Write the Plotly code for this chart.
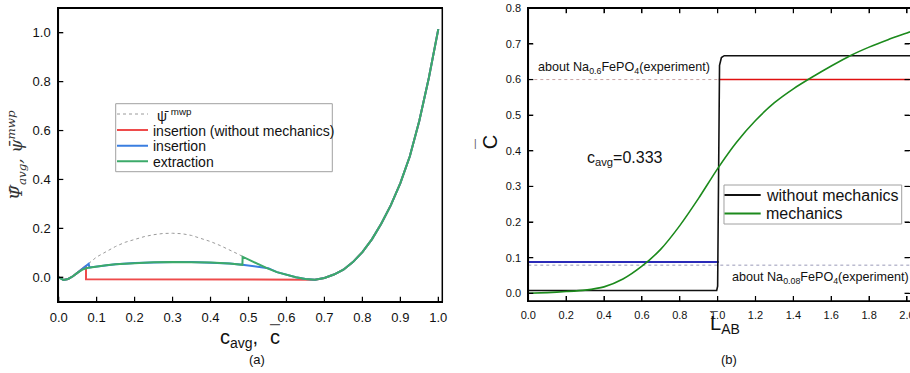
import plotly.graph_objects as go

W, H = 910, 373
FONT = "Liberation Sans, Arial, sans-serif"

# ---------------- (a) data ----------------
mwp_c = [0, 0.0125, 0.025, 0.0375, 0.05, 0.0625, 0.075, 0.0875, 0.1, 0.125, 0.15, 0.175,
         0.2, 0.225, 0.25, 0.275, 0.3, 0.325, 0.35, 0.375, 0.4, 0.425, 0.45, 0.475, 0.5,
         0.525, 0.55, 0.575, 0.6, 0.625, 0.65, 0.675, 0.7, 0.725, 0.75, 0.775, 0.8, 0.825,
         0.85, 0.875, 0.9, 0.925, 0.95, 0.975, 1.0]
mwp_psi = [0, -0.011, -0.007, 0.004, 0.019, 0.034, 0.050, 0.067, 0.083, 0.106, 0.126, 0.143,
           0.156, 0.166, 0.174, 0.179, 0.180, 0.178, 0.171, 0.160, 0.146, 0.130, 0.112, 0.093, 0.072,
           0.053, 0.036, 0.021, 0.009, 0.000, -0.007, -0.010, -0.003, 0.011, 0.031, 0.062, 0.103, 0.155,
           0.220, 0.295, 0.385, 0.495, 0.640, 0.815, 1.015]

# lower (two-phase) branch of the averaged energy
lower_c = [0.0625, 0.075, 0.09, 0.1, 0.125, 0.15, 0.2, 0.25, 0.3, 0.35, 0.4, 0.45, 0.484]
lower_psi = [0.031, 0.038, 0.042, 0.044, 0.049, 0.053, 0.058, 0.061, 0.062, 0.062, 0.060, 0.056, 0.051]

# extraction: jump back onto the single-phase curve
ext_jump_c = [0.4845]
ext_jump_psi = [0.084]

# insertion: leaves the single-phase curve, rejoins it later
ins_leave_c = [0.079, 0.081]
ins_leave_psi = [0.055, 0.040]
ins_join_c = [0.552]
ins_join_psi = [0.037]

# insertion without mechanics
nomech_c = [0.072, 0.072, 0.65]
nomech_psi = [0.046, -0.008, -0.008]

# ---------------- (b) data ----------------
L_ab = [0.0, 0.1, 0.2, 0.3, 0.4, 0.5, 0.6, 0.7, 0.8, 0.9, 1.0, 1.1, 1.2, 1.3, 1.4, 1.5, 1.6,
        1.7, 1.8, 1.9, 2.0, 2.016]
c_mech = [0.000, 0.002, 0.005, 0.009, 0.018, 0.040, 0.076, 0.124, 0.190, 0.267, 0.350, 0.424,
          0.485, 0.535, 0.574, 0.607, 0.638, 0.667, 0.691, 0.712, 0.731, 0.734]

step_L = [0.0, 0.995, 1.0, 1.005, 1.01, 1.02, 1.035, 2.016]
step_c = [0.008, 0.008, 0.02, 0.5, 0.64, 0.662, 0.667, 0.667]

c_low_phase = 0.088     # blue level, L < 1
c_high_phase = 0.6      # red level, L > 1
L_switch = 1.006
exp_high = 0.6          # about Na0.6FePO4
exp_low = 0.079         # about Na0.08FePO4

# tick values
a_xticks = [0.0, 0.1, 0.2, 0.3, 0.4, 0.5, 0.6, 0.7, 0.8, 0.9, 1.0]
a_yticks = [0.0, 0.2, 0.4, 0.6, 0.8, 1.0]
b_xticks = [0.0, 0.2, 0.4, 0.6, 0.8, 1.0, 1.2, 1.4, 1.6, 1.8, 2.0]
b_yticks = [0.0, 0.1, 0.2, 0.3, 0.4, 0.5, 0.6, 0.7, 0.8]

# ---------------- layout geometry (pixels) ----------------
A_XR, A_YR = [-0.001, 1.0105], [-0.1, 1.1]
B_XR, B_YR = [0.0, 2.016], [-0.0216, 0.8]
A_PX, A_PY = (58.3, 442.3), (301.7, 8.3)    # left/right, bottom/top
B_PX, B_PY = (528.3, 910.0), (301.0, 8.3)
L_max = B_XR[1]


def pick(cs, ps, lo=None, hi=None):
    out_c, out_p = [], []
    for c, p in zip(cs, ps):
        if (lo is None or c >= lo) and (hi is None or c <= hi):
            out_c.append(c)
            out_p.append(p)
    return out_c, out_p


# build paths
a_c, a_p = pick(mwp_c, mwp_psi, hi=0.0625)
b_c, b_p = pick(mwp_c, mwp_psi, lo=0.575)
tail_c, tail_p = pick(mwp_c, mwp_psi, lo=0.675)
red_x = a_c + nomech_c + tail_c
red_y = a_p + nomech_psi + tail_p

c1, p1 = pick(mwp_c, mwp_psi, hi=0.075)
lc, lp = pick(lower_c, lower_psi, lo=0.09)
blue_x = c1 + ins_leave_c + lc + ins_join_c + b_c
blue_y = p1 + ins_leave_psi + lp + ins_join_psi + b_p

c2, p2 = pick(mwp_c, mwp_psi, hi=0.05)
c3, p3 = pick(mwp_c, mwp_psi, lo=0.5)
green_x = c2 + lower_c + ext_jump_c + c3
green_y = p2 + lower_psi + ext_jump_psi + p3

RED = "#ee4b4b"
BLUE = "#3a7ee0"
GREEN = "#3caa6a"
FRAME = "#000000"
MWP_GRAY = "#9a9a9a"
B_GREEN = "#1c8a1c"
B_BLACK = "#111111"

fig = go.Figure()


def line(x, y, color, width, axes="a", dash=None, name=None, shape="linear"):
    ln = dict(color=color, width=width, shape=shape)
    if dash:
        ln["dash"] = dash
    if shape == "spline":
        ln["smoothing"] = 0.6
    xa, ya = {"a": ("x", "y"), "b": ("x2", "y2"), "p": ("x3", "y3")}[axes]
    fig.add_trace(go.Scatter(x=x, y=y, mode="lines", line=ln, name=name, hoverinfo="skip",
                             xaxis=xa, yaxis=ya))


line(mwp_c, mwp_psi, MWP_GRAY, 1, dash="dot", name="ψ̄ mwp")
line(red_x, red_y, RED, 2, name="insertion (without mechanics)")
line(blue_x, blue_y, BLUE, 2, name="insertion")
line(green_x, green_y, GREEN, 2, name="extraction")

line([0, L_switch], [exp_high, exp_high], "#c8a4a4", 1, "b", dash="dot")
line([0, L_max], [exp_low, exp_low], "#9a9ab8", 1, "b", dash="dot")
line([0, L_switch], [c_low_phase, c_low_phase], "#2b2bb8", 2, "b")
line([L_switch, L_max], [c_high_phase, c_high_phase], "#e01010", 1.6, "b")
line(step_L, step_c, B_BLACK, 1.6, "b", name="without mechanics")
line(L_ab, c_mech, B_GREEN, 1.6, "b", name="mechanics", shape="spline")


# pixel -> data helpers
def dx(px, XR, PX):
    return XR[0] + (px - PX[0]) / (PX[1] - PX[0]) * (XR[1] - XR[0])


def dy(py, YR, PY):
    return YR[0] + (PY[0] - py) / (PY[0] - PY[1]) * (YR[1] - YR[0])


def ax_a(px, py):
    return dx(px, A_XR, A_PX), dy(py, A_YR, A_PY)


def ax_b(px, py):
    return dx(px, B_XR, B_PX), dy(py, B_YR, B_PY)


# data -> pixel (for the frame overlay drawn in a full-page pixel subplot)
def vx(v, XR, PX):
    return PX[0] + (v - XR[0]) / (XR[1] - XR[0]) * (PX[1] - PX[0])


def vy(v, YR, PY):
    return PY[0] - (v - YR[0]) / (YR[1] - YR[0]) * (PY[0] - PY[1])


TL = 5  # tick length, px


def frame_and_ticks(XR, YR, PX, PY, xticks, yticks, full_box, mirror_ticks):
    L, R, B, T = PX[0], PX[1], PY[0], PY[1]
    if full_box:
        line([L, R, R, L, L], [B, B, T, T, B], FRAME, 1.5, "p")
    else:
        line([R + 3, L, L, R + 3], [T, T, B, B], FRAME, 1.5, "p")
    xs, ys = [], []
    for v in xticks:
        xp = vx(v, XR, PX)
        xs += [xp, xp, None]
        ys += [B, B - TL, None]
        if mirror_ticks:
            xs += [xp, xp, None]
            ys += [T, T + TL, None]
    for v in yticks:
        yp = vy(v, YR, PY)
        xs += [L, L + TL, None]
        ys += [yp, yp, None]
        if mirror_ticks:
            xs += [R - 0.5, R - 0.5 - TL, None]
            ys += [yp, yp, None]
    line(xs, ys, FRAME, 1.2, "p")


frame_and_ticks(A_XR, A_YR, A_PX, A_PY, a_xticks, a_yticks, True, False)
frame_and_ticks(B_XR, B_YR, B_PX, B_PY, b_xticks, b_yticks, False, True)


# legend boxes and samples (positions in pixels, converted to data space)
def box(conv, l, t, r, b, axes):
    p = [conv(l, t), conv(r, t), conv(r, b), conv(l, b), conv(l, t)]
    line([q[0] for q in p], [q[1] for q in p], "#a0a0a0", 1, axes)


box(ax_a, 115.7, 103.7, 332.3, 171.7, "a")
rows_a = [(114.0, MWP_GRAY, "dot", 1, "\u00a0ψ̄ <sup>mwp</sup>"),
          (130.0, RED, None, 2, "insertion (without mechanics)"),
          (145.7, BLUE, None, 2, "insertion"),
          (161.2, GREEN, None, 2, "extraction")]
for yy, col, dash, wd, _ in rows_a:
    pa, pb = ax_a(117, yy), ax_a(148, yy)
    line([pa[0], pb[0]], [pa[1], pb[1]], col, wd, "a", dash=dash)

box(ax_b, 724, 185, 901.7, 224, "b")
rows_b = [(195.0, B_BLACK, "without mechanics"), (213.5, B_GREEN, "mechanics")]
for yy, col, _ in rows_b:
    pa, pb = ax_b(724.5, yy), ax_b(760.7, yy)
    line([pa[0], pb[0]], [pa[1], pb[1]], col, 2, "b")


def X(p):
    return p / W


def Y(p):
    return 1 - p / H


AX = dict(showgrid=False, zeroline=False, showline=True, linecolor=FRAME, linewidth=1,
          ticks="inside", ticklen=5, tickwidth=1, tickcolor=FRAME,
          tickformat=".1f", automargin=False, ticklabeloverflow="allow",
          ticklabelstandoff=4, fixedrange=True, layer="above traces")

fig.update_layout(
    template="simple_white",
    width=W, height=H, margin=dict(l=0, r=0, t=0, b=0, pad=0), autosize=False,
    paper_bgcolor="white", plot_bgcolor="rgba(0,0,0,0)", showlegend=False,
    font=dict(family=FONT, color="#111"),
    xaxis=dict(AX, domain=[X(A_PX[0]), X(A_PX[1])], range=A_XR, anchor="y", mirror=True,
               tickvals=a_xticks, tickfont=dict(size=13)),
    yaxis=dict(AX, domain=[Y(A_PY[0]), Y(A_PY[1])], range=A_YR, anchor="x", mirror=True,
               tickvals=a_yticks, tickfont=dict(size=13)),
    xaxis2=dict(AX, domain=[X(B_PX[0]), X(B_PX[1])], range=B_XR, anchor="y2", mirror="ticks",
                tickvals=b_xticks, tickfont=dict(size=11)),
    yaxis2=dict(AX, domain=[Y(B_PY[0]), Y(B_PY[1])], range=B_YR, anchor="x2", mirror="ticks",
                tickvals=b_yticks, tickfont=dict(size=11)),
    # full-page pixel overlay used only for the plot frames and tick marks
    xaxis3=dict(domain=[0, 1], range=[0, W], visible=False, fixedrange=True, anchor="y3",
                showgrid=False, zeroline=False),
    yaxis3=dict(domain=[0, 1], range=[H, 0], visible=False, fixedrange=True, anchor="x3",
                showgrid=False, zeroline=False),
)

ann = []


def text(x, y, t, size, xanchor="left", yanchor="middle", family=FONT, angle=0, color="#111"):
    ann.append(dict(x=X(x), y=Y(y), xref="paper", yref="paper", text=t, showarrow=False,
                    xanchor=xanchor, yanchor=yanchor, textangle=angle, borderpad=1,
                    font=dict(size=size, family=family, color=color)))


# axis titles (a)
text(218, 323.6, "c<sub>avg</sub>,", 20, yanchor="top")
text(268, 323.6, "c", 20, yanchor="top")
text(274.5, 322.7, "–", 18, xanchor="center", color="#555")
text(16, 155, "<i>Ψ̄<sub>avg</sub>, ψ̄<sup>mwp</sup></i>", 17, xanchor="center",
     family="DejaVu Serif, Liberation Serif, serif", angle=-90, color="#333")
text(257, 359.5, "(a)", 13, xanchor="center")

# axis titles (b)
text(707.5, 309.5, "L<sub>AB</sub>", 20, yanchor="top")
text(713.8, 310.2, "–", 14, xanchor="center", color="#555")
text(490.8, 142.5, "C", 20, xanchor="center", angle=-90)
text(475, 143.5, "|", 10, xanchor="center", color="#555")
text(729, 359.5, "(b)", 13, xanchor="center")

# annotations (b)
text(535.5, 58.3, "about Na<sub>0.6</sub>FePO<sub>4</sub>(experiment)", 12.6, yanchor="top")
text(729.5, 268.3, "about Na<sub>0.08</sub>FePO<sub>4</sub>(experiment)", 12.6, yanchor="top")
text(585, 146.8, "c<sub>avg</sub>=0.333", 16, yanchor="top")

# legend labels
for yy, _, _, _, label in rows_a:
    text(150.5, yy + 0.6, label, 14)
for yy, _, label in rows_b:
    text(763.5, yy, label, 16)

fig.update_layout(annotations=ann)
fig.write_html("out.html", include_plotlyjs=True, config={"displayModeBar": False, "staticPlot": True},
               post_script="document.body.style.margin='0';document.body.style.padding='0';"
                           "document.body.style.overflow='hidden';")
